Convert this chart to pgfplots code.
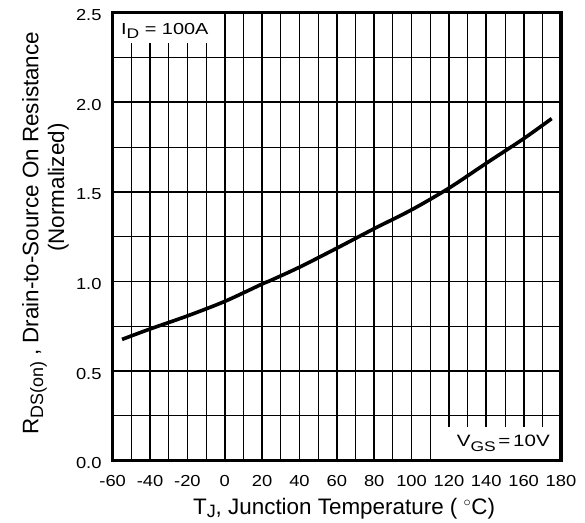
\documentclass[border=0pt]{standalone}
\usepackage{fontspec}
\setmainfont{Liberation Sans}
\newfontfamily\tickfont{Liberation Sans}[FakeStretch=1.15]
\newfontfamily\wfont{Liberation Sans}[FakeStretch=1.25]
\usepackage{pgfplots}
\usetikzlibrary{calc}
\pgfplotsset{compat=1.18}
\begin{document}
\begin{tikzpicture}
\begin{axis}[
  scale only axis,
  width=448.3bp, height=448bp,
  xmin=-60, xmax=180, ymin=0, ymax=2.5,
  xtick={-60,-40,...,180},
  ytick={0,0.5,...,2.5},
  minor x tick num=1, minor y tick num=1,
  major tick length=0pt, minor tick length=0pt,
  grid=both,
  major grid style={line width=1.8bp, black},
  minor grid style={line width=0.9bp, black},
  axis line style={line width=3.5bp},
  /pgf/number format/assume math mode=true,
  tick label style={font=\tickfont\fontsize{16}{19}\selectfont, inner sep=0pt},
  xticklabel style={anchor=base, yshift=-26bp},
  yticklabel style={anchor=base east, xshift=-11bp, yshift=-8bp,
     /pgf/number format/.cd, fixed, fixed zerofill, precision=1},
  label style={font=\fontsize{22.5}{26}\selectfont, inner sep=0pt},
  xlabel={T\raisebox{-0.15em}{\fontsize{18}{20}\selectfont J}, Junction Temperature ( $^{\circ}$C)},
  ylabel={R\raisebox{-0.22em}{\fontsize{18}{20}\selectfont DS(on)} , \begin{tabular}[t]{@{}c@{}}Drain-to-Source On Resistance\\(Normalized)\end{tabular}},
  ylabel style={at={(axis description cs:-0.166,0.057)}, anchor=base west},
  xlabel style={at={(axis description cs:0.516,-0.119)}, anchor=base},
]
\fill[white] (axis cs:-60,2.333) rectangle (axis cs:-3,2.5);
\fill[white] (axis cs:115,0) rectangle (axis cs:180,0.19);
\addplot[smooth, line width=3.6bp, black] coordinates {
(-55,0.677) (-40,0.735) (-20,0.808) (0,0.889) (20,0.986) (25,1.008)
(40,1.080) (60,1.186) (80,1.295) (100,1.400) (120,1.521) (140,1.660)
(160,1.797) (175,1.909)
};
\node[anchor=base west, inner sep=0pt, font=\wfont\fontsize{16}{19}\selectfont] at (axis cs:-55.6,2.379) {I\raisebox{-0.25em}{\fontsize{14}{16}\selectfont D} = 100A};
\node[anchor=base east, inner sep=0pt, font=\wfont\fontsize{16.5}{19}\selectfont] at (axis cs:174.1,0.078) {V\raisebox{-0.3em}{\fontsize{14}{16}\selectfont GS}\,=\,10V};
\draw[line width=3.5bp] (rel axis cs:0,0) rectangle (rel axis cs:1,1);
\end{axis}
\pgfresetboundingbox
\useasboundingbox ($(current axis.south west)+(-112.7bp,-62.3bp)$) rectangle ($(current axis.north east)+(24bp,12.7bp)$);
\end{tikzpicture}
\end{document}
